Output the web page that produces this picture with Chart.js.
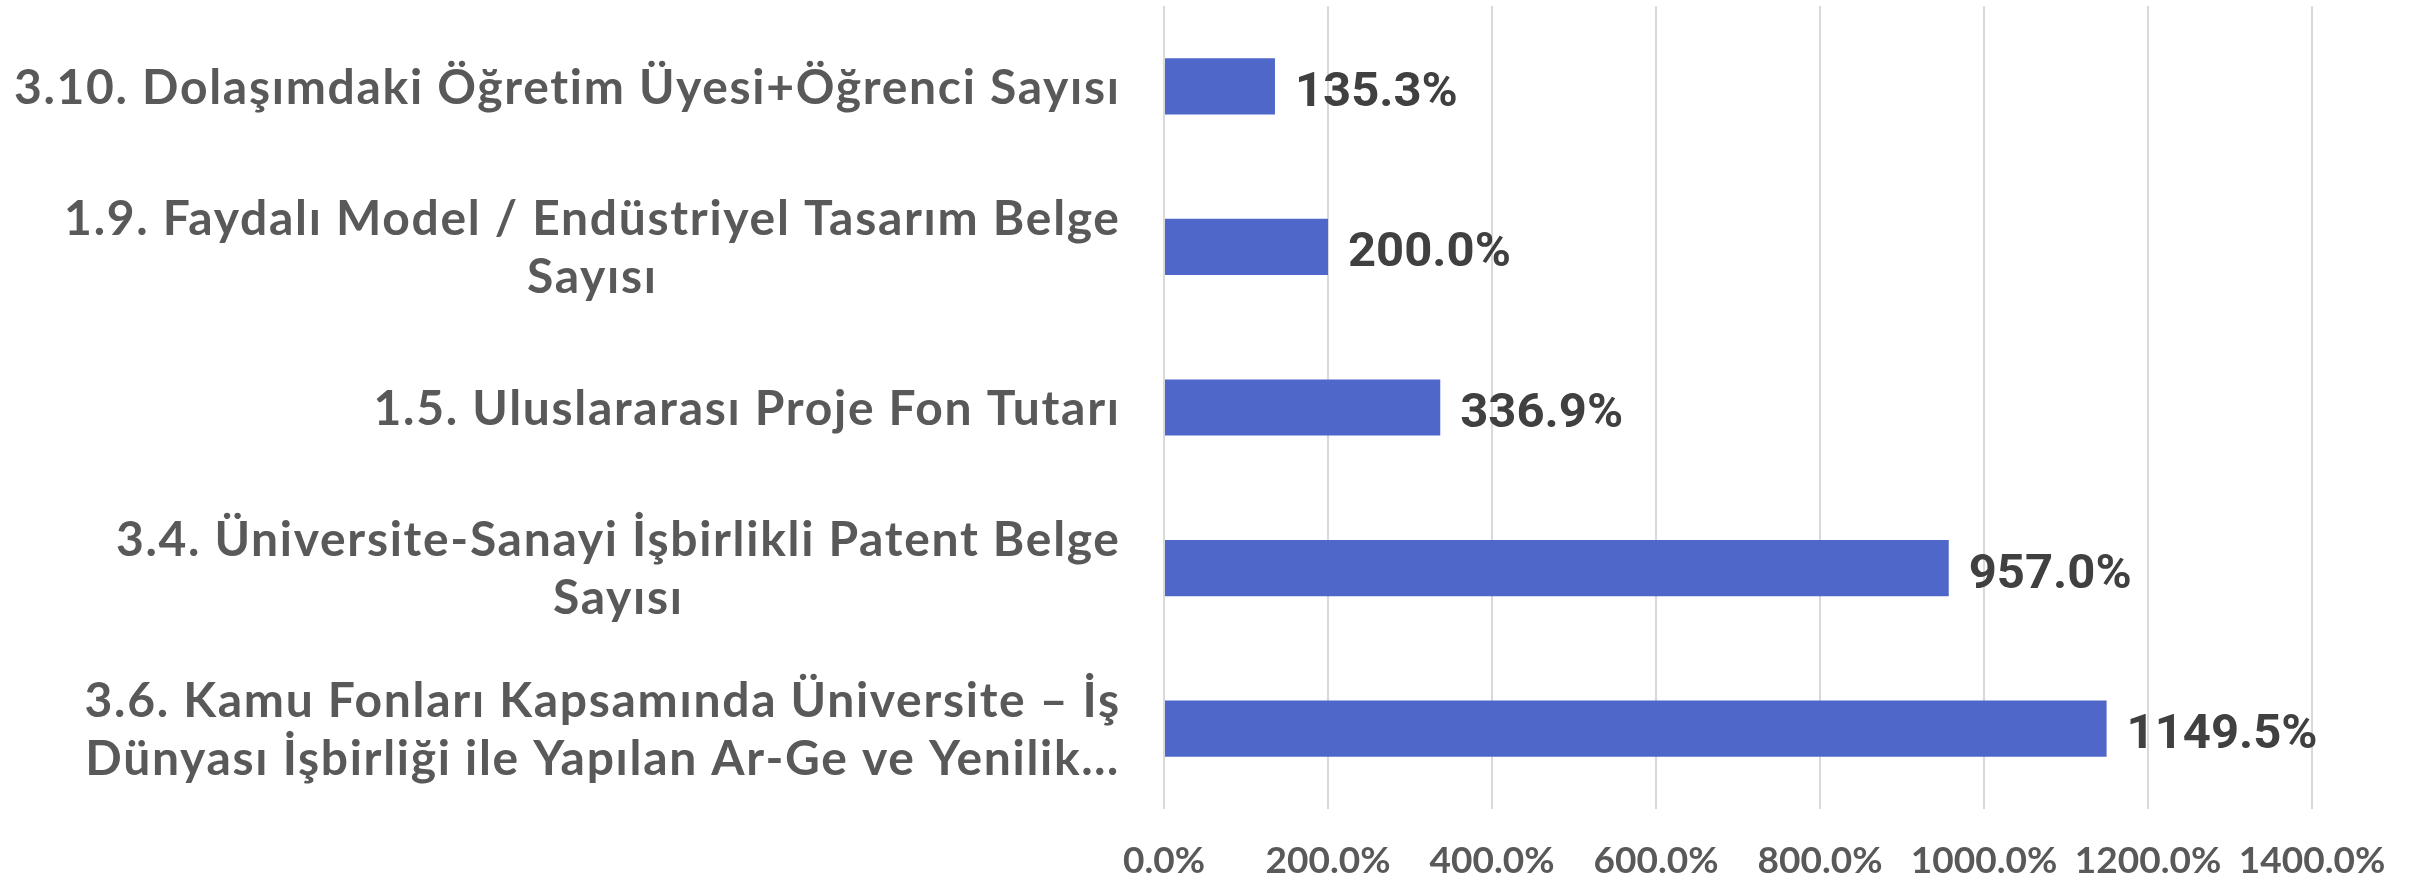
<!DOCTYPE html>
<html>
<head>
<meta charset="utf-8">
<script src="https://cdn.jsdelivr.net/npm/chart.js@4.4.1/dist/chart.umd.min.js"></script>
<style>
html,body{margin:0;padding:0;background:#ffffff;}
#wrap{width:2420px;height:877px;position:relative;}
</style>
</head>
<body>
<div id="wrap"><canvas id="c" width="2420" height="877"></canvas></div>
<script>
const categories = [
  ["3.10. Dolaşımdaki Öğretim Üyesi+Öğrenci Sayısı"],
  ["1.9. Faydalı Model / Endüstriyel Tasarım Belge", "Sayısı"],
  ["1.5. Uluslararası Proje Fon Tutarı"],
  ["3.4. Üniversite-Sanayi İşbirlikli Patent Belge", "Sayısı"],
  ["3.6. Kamu Fonları Kapsamında Üniversite – İş", "Dünyası İşbirliği ile Yapılan Ar-Ge ve Yenilik…"]
];
const values = [135.3, 200.0, 336.9, 957.0, 1149.5];
const xMin = 0;
const xMax = 1400;
const xStep = 200;

const CAT_FONT = 48;
const CAT_LINE = 58;
const CAT_SPACING = 1.7;
const VAL_FONT = 49;

const labelPlugin = {
  id: 'customLabels',
  afterDraw(chart) {
    const ctx = chart.ctx;
    const ys = chart.scales.y;
    ctx.save();
    ctx.font = '700 ' + CAT_FONT + 'px Lato';
    if ('letterSpacing' in ctx) ctx.letterSpacing = CAT_SPACING + 'px';
    ctx.fillStyle = '#595959';
    ctx.textBaseline = 'alphabetic';
    ctx.textAlign = 'center';
    const right = ys.right - 45 + CAT_SPACING;
    const cap = 0.72 * CAT_FONT;
    categories.forEach((lines, i) => {
      const c = ys.getPixelForTick(i);
      const w = Math.max(...lines.map(t => ctx.measureText(t).width));
      const cx = right - w / 2;
      lines.forEach((t, j) => {
        const m = c + (j - (lines.length - 1) / 2) * CAT_LINE;
        ctx.fillText(t, cx, m + cap / 2);
      });
    });
    if ('letterSpacing' in ctx) ctx.letterSpacing = '0px';
    const meta = chart.getDatasetMeta(0);
    ctx.font = '700 ' + VAL_FONT + 'px Roboto';
    ctx.fillStyle = '#404040';
    ctx.textAlign = 'left';
    meta.data.forEach((bar, i) => {
      ctx.fillText(values[i].toFixed(1) + '%', bar.x + 20, bar.y + 2 + 0.711 * VAL_FONT / 2);
    });
    ctx.restore();
  }
};

new Chart(document.getElementById('c'), {
  type: 'bar',
  data: {
    labels: categories,
    datasets: [{
      data: values,
      backgroundColor: '#4E67C8',
      borderWidth: 0,
      barPercentage: 0.35,
      categoryPercentage: 1.0
    }]
  },
  options: {
    indexAxis: 'y',
    responsive: false,
    devicePixelRatio: 1,
    animation: false,
    layout: { padding: { top: 6, right: 108, left: 0, bottom: 0 } },
    plugins: { legend: { display: false }, tooltip: { enabled: false } },
    scales: {
      x: {
        min: xMin,
        max: xMax,
        ticks: {
          stepSize: xStep,
          callback: v => Number(v).toFixed(1) + '%',
          font: { family: 'Lato', weight: '700', size: 37 },
          color: '#595959',
          padding: 30,
          maxRotation: 0,
          autoSkip: false
        },
        grid: { color: '#D9D9D9', lineWidth: 2, drawTicks: false },
        border: { display: false },
        afterFit: s => { s.height = 68; }
      },
      y: {
        ticks: { display: false },
        grid: { display: false },
        border: { display: false },
        afterFit: s => { s.width = 1164; }
      }
    }
  },
  plugins: [labelPlugin]
});
</script>
</body>
</html>
